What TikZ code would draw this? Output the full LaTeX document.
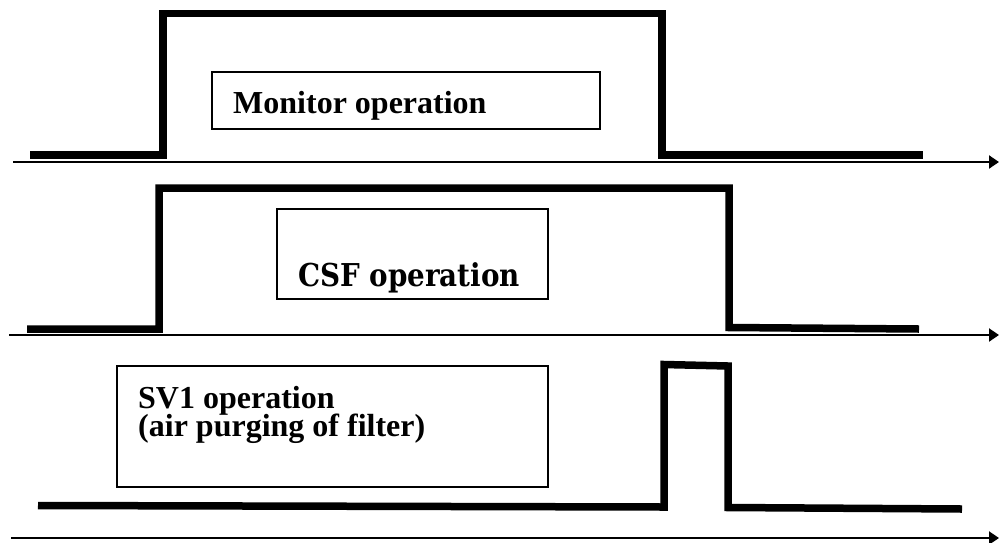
\documentclass[tikz,border=0pt]{standalone}
\usepackage{fontspec}
\setmainfont{Liberation Serif}
\newfontfamily\csffont{DejaVu Serif Condensed}
\usetikzlibrary{arrows.meta}
\begin{document}
\begin{tikzpicture}[x=1pt,y=-1pt,
  wave/.style={line width=7.5pt,line join=miter,line cap=butt},
  axisline/.style={line width=2pt,-{Triangle[length=10pt,width=13pt]}},
  opbox/.style={draw,line width=1.3pt,inner sep=0pt},
  optext/.style={anchor=base west,inner sep=0pt,font=\fontsize{32}{36}\selectfont\bfseries}]
\useasboundingbox (0,0) rectangle (999,542);
% axes
\coordinate (a1s) at (13,162); \coordinate (a1e) at (999,162);
\coordinate (a2s) at (9,335); \coordinate (a2e) at (999,335);
\coordinate (a3s) at (11,538); \coordinate (a3e) at (999,538);
\draw[axisline] (a1s) -- (a1e);
\draw[axisline] (a2s) -- (a2e);
\draw[axisline] (a3s) -- (a3e);
% waveform 1
\draw[wave] (30,155) -- (163,155) -- (163,13.5) -- (662,13.5) -- (662,155) -- (923,155);
% waveform 2
\draw[wave] (27,329) -- (159,329) -- (159,188) -- (729,188) -- (729,327.5) -- (919,329);
% waveform 3
\draw[wave] (38,505.5) -- (664,507) -- (664,364.5) -- (728,366) -- (728,507.5) -- (962,509);
% boxes
\node[opbox,minimum width=388pt,minimum height=57pt] (b1) at (406,100.5) {};
\node[optext] (t1) at (233,113) {Monitor operation};
\node[opbox,minimum width=271pt,minimum height=90pt] (b2) at (412.5,254) {};
\node[anchor=base west,inner sep=0pt] (t2) at (298,286) {\scalebox{0.98}[1]{\csffont\bfseries\fontsize{31.5}{34}\selectfont CSF operation}};
\node[opbox,minimum width=431pt,minimum height=121pt] (b3) at (332.5,426.5) {};
\node[optext] (t3a) at (138,408) {SV1 operation};
\node[optext] (t3b) at (138,436) {(air purging of filter)};
\end{tikzpicture}
\end{document}
